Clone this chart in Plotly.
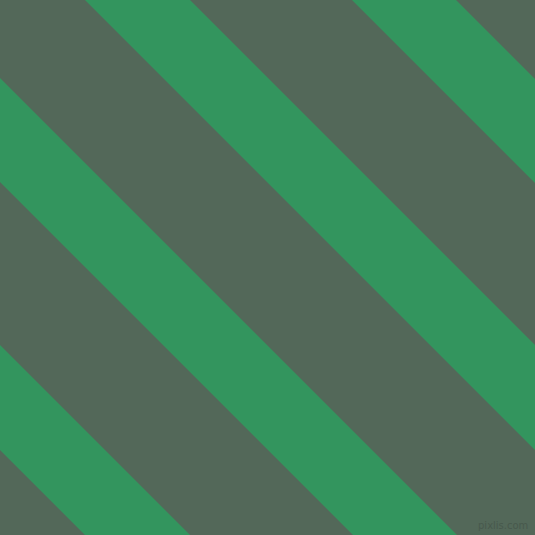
import plotly.graph_objects as go

# band edges along x - y (pixels)
stripe_start = [352, 85, -182, -450]
stripe_end = [456, 190, -78, -345]

bg_color = "#536859"
stripe_color = "#33955e"

fig = go.Figure()

for a, b in zip(stripe_start, stripe_end):
    ys = [-100, 635, 635, -100, -100]
    xs = [a + ys[0], a + ys[1], b + ys[2], b + ys[3], a + ys[4]]
    fig.add_trace(go.Scatter(x=xs, y=ys, mode="lines", fill="toself",
                             fillcolor=stripe_color, line=dict(width=0),
                             hoverinfo="skip", showlegend=False))

fig.add_annotation(x=503, y=525, text="pixlis.com", showarrow=False,
                   font=dict(family="DejaVu Sans", size=10, color="#48594d"))

fig.update_xaxes(range=[0, 535], visible=False, fixedrange=True)
fig.update_yaxes(range=[535, 0], visible=False, fixedrange=True)
fig.update_layout(
    width=535, height=535,
    margin=dict(l=0, r=0, t=0, b=0),
    paper_bgcolor=bg_color,
    plot_bgcolor=bg_color,
)

# drop the page's default body margin so the figure fills the window
fig.write_html("out.html", config={"displayModeBar": False},
               post_script="document.body.style.margin='0';"
                           "document.body.style.overflow='hidden';")
